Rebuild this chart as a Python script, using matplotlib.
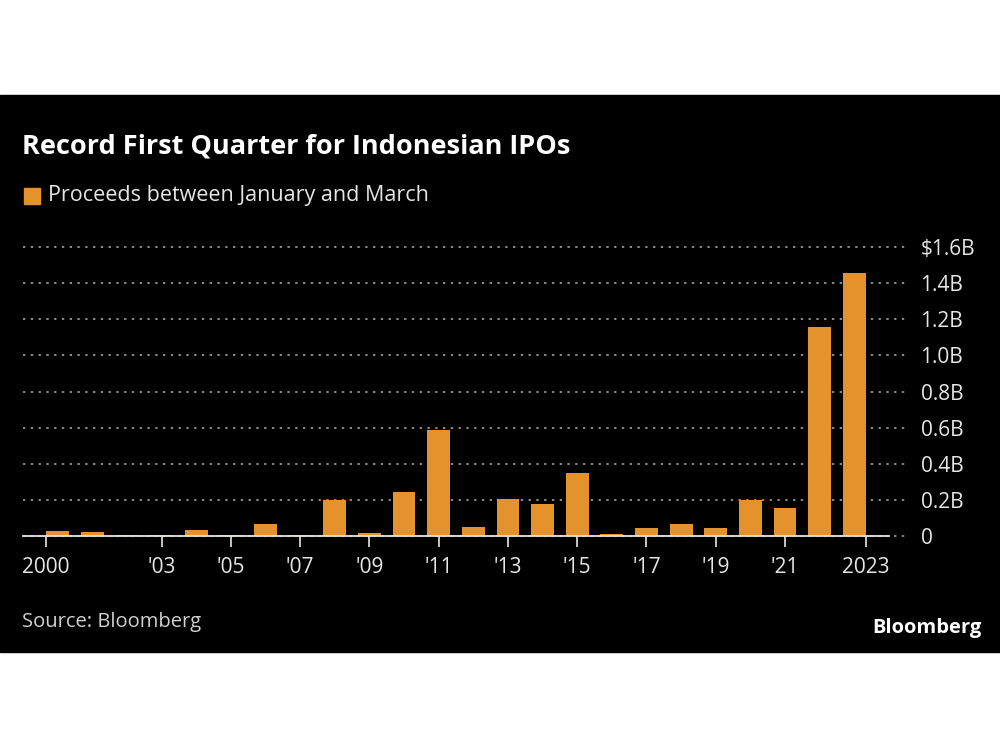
import matplotlib.pyplot as plt
import matplotlib.patches as mpatches

years = list(range(2000, 2024))
proceeds = [0.026, 0.024, 0.008, 0.004, 0.035, 0.004, 0.068, 0.004, 0.198, 0.018,
            0.245, 0.587, 0.050, 0.203, 0.179, 0.348, 0.009, 0.043, 0.068, 0.043,
            0.197, 0.153, 1.156, 1.455]  # $B, Jan-Mar
tick_years = [2000, 2003, 2005, 2007, 2009, 2011, 2013, 2015, 2017, 2019, 2021, 2023]
tick_labels = ['2000', "'03", "'05", "'07", "'09", "'11", "'13", "'15", "'17", "'19", "'21", '2023']
y_ticks = [0, 0.2, 0.4, 0.6, 0.8, 1.0, 1.2, 1.4, 1.6]
y_labels = ['0', '0.2B', '0.4B', '0.6B', '0.8B', '1.0B', '1.2B', '1.4B', '$1.6B']

plt.rcParams['font.family'] = ['Open Sans', 'DejaVu Sans']
orange = '#e3922d'
bw = 0.66

fig = plt.figure(figsize=(10, 7.5), dpi=100)
fig.patch.set_facecolor('white')
fig.add_artist(mpatches.Rectangle((0, 1 - 652 / 750), 1, (652 - 95) / 750,
                                  transform=fig.transFigure, color='black', zorder=0))

ymax = 1.62
pxu = (536 - 247) / 1.6
top = 536 - ymax * pxu
ax = fig.add_axes([23 / 1000, 1 - 536 / 750, (908 - 23) / 1000, (536 - top) / 750])
ax.set_facecolor('black')
ax.bar(years, proceeds, width=bw, color=orange, zorder=3)
ax.set_xlim(1999.0, 2024.55)
ax.set_ylim(0, ymax)

# baseline
ax.plot([1999.0, 2024.0], [0, 0], color='#e6e6e6', lw=1.3, zorder=4, clip_on=False)

for s in ax.spines.values():
    s.set_visible(False)

ax.yaxis.tick_right()
ax.set_yticks(y_ticks)
ax.set_yticklabels(y_labels)
ax.tick_params(axis='y', length=0, pad=9, labelsize=15, labelcolor='#e6e6e6')
ax.grid(axis='y', color='#8a8a8a', linestyle=(0, (1.2, 2.8)), lw=1.4, zorder=1)
for g in ax.get_ygridlines():
    g.set_clip_on(False)

# end ticks sit on the outer edges of the first/last bar
xt = [t - bw / 2 if t == 2000 else (t + bw / 2 if t == 2023 else t) for t in tick_years]
ax.set_xticks(xt)
ax.set_xticklabels(tick_labels)
ax.tick_params(axis='x', length=8, width=1.2, color='#e6e6e6', pad=7,
               labelsize=15, labelcolor='#e6e6e6')

fig.text(22 / 1000, 1 - 146 / 750, 'Record First Quarter for Indonesian IPOs',
         color='white', fontsize=19.5, fontweight='bold', va='center', ha='left')
fig.add_artist(mpatches.Rectangle((24 / 1000, 1 - 204 / 750), 16 / 1000, 16 / 750,
                                  transform=fig.transFigure, color=orange))
fig.text(48 / 1000, 1 - 196 / 750, 'Proceeds between January and March',
         color='#e6e6e6', fontsize=15.5, va='center', ha='left')
fig.text(22 / 1000, 1 - 622 / 750, 'Source: Bloomberg',
         color='#d0d0d0', fontsize=14.5, va='center', ha='left')
fig.text(982 / 1000, 1 - 628 / 750, 'Bloomberg',
         color='white', fontsize=14.5, fontweight='bold', va='center', ha='right')

fig.savefig('out.png', dpi=100, facecolor='white')
